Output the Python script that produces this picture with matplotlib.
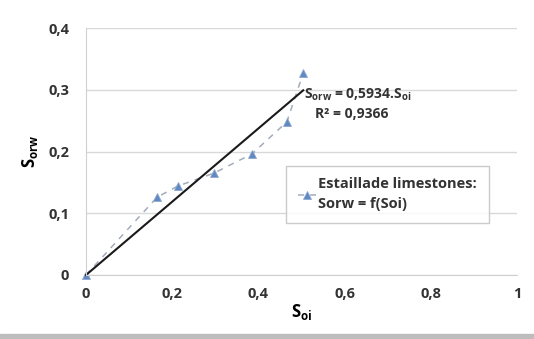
import numpy as np
import matplotlib
matplotlib.use('Agg')
import matplotlib.pyplot as plt

plt.rcParams['font.family'] = ['Open Sans', 'DejaVu Sans']
plt.rcParams['mathtext.fontset'] = 'custom'
plt.rcParams['mathtext.rm'] = 'Open Sans:bold'
plt.rcParams['mathtext.it'] = 'Open Sans:bold'
plt.rcParams['mathtext.bf'] = 'Open Sans:bold'

# Estaillade limestones: Sorw vs Soi
soi = [0, 0.165, 0.213, 0.297, 0.385, 0.466, 0.504]
sorw = [0, 0.126, 0.144, 0.165, 0.196, 0.248, 0.327]
slope = 0.5934
r2 = 0.9366

xticks = [0, 0.2, 0.4, 0.6, 0.8, 1]
yticks = [0, 0.1, 0.2, 0.3, 0.4]

fig = plt.figure(figsize=(5.34, 3.39), dpi=100)
ax = fig.add_axes([86 / 534, 64 / 339, 431 / 534, 247 / 339])

ax.plot(soi, sorw, linestyle=(0, (4, 4)), color='#a3abbb', linewidth=1.1,
        marker='^', markersize=5.8, markerfacecolor='#6189c0',
        markeredgecolor='#8aa8d2', markeredgewidth=0.6, clip_on=False,
        label='Estaillade limestones:\nSorw = f(Soi)')

xfit = np.array([0, max(soi)])
ax.plot(xfit, slope * xfit, color='#1a1a1a', linewidth=1.5, clip_on=False)

ax.text(0.505, 0.292, r'$S_{orw}$ = 0,5934.$S_{oi}$', fontsize=10,
        fontweight='bold', color='#333333', ha='left', va='center')
ax.text(0.617, 0.261, 'R² = 0,9366', fontsize=10, fontweight='bold',
        color='#333333', ha='center', va='center')

ax.set_xlim(0, 1)
ax.set_ylim(0, 0.4)
ax.set_xticks(xticks)
ax.set_yticks(yticks)
ax.set_xticklabels([f'{t:g}'.replace('.', ',') for t in xticks], fontsize=10.5,
                   fontweight='bold', color='#333333')
ax.set_yticklabels([f'{t:g}'.replace('.', ',') for t in yticks], fontsize=10.5,
                   fontweight='bold', color='#333333')
ax.tick_params(length=0, pad=12)
ax.tick_params(axis='x', pad=9)
ax.grid(axis='y', color='#d9d9d9', linewidth=1)
ax.set_axisbelow(True)
for s in ['top', 'right']:
    ax.spines[s].set_visible(False)
for s in ['left', 'bottom']:
    ax.spines[s].set_color('#d0d0d0')

ax.set_xlabel(r'$S_{oi}$', fontsize=12, labelpad=0)
ax.set_ylabel(r'$S_{orw}$', fontsize=12, labelpad=6)

leg = ax.legend(loc='upper left', bbox_to_anchor=(0.448, 0.472), frameon=True,
                fancybox=False, edgecolor='#bfbfbf', handlelength=1.2,
                handletextpad=0.2, borderpad=0.8, labelspacing=0.6,
                prop={'family': 'Open Sans', 'weight': 'bold', 'size': 10.5})
leg.get_frame().set_linewidth(1.0)
for t in leg.get_texts():
    t.set_color('#333333')
    t.set_linespacing(1.5)

# grey strip at bottom of frame
fig.patches.append(plt.Rectangle((0, 0), 1, 5 / 339, transform=fig.transFigure,
                                 color='#bdbdbd', zorder=0))

fig.savefig('out.png', dpi=100)
